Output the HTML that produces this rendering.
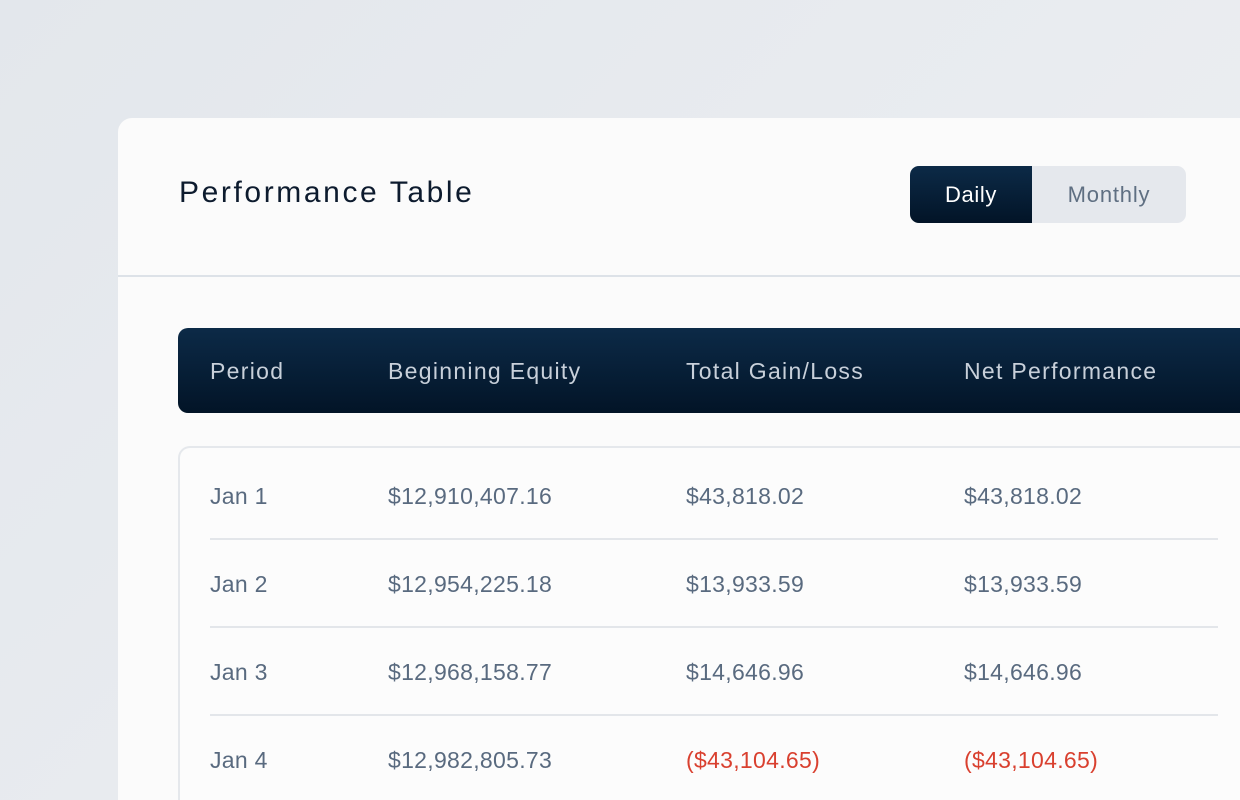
<!DOCTYPE html>
<html><head><meta charset="utf-8"><style>
*{margin:0;padding:0;box-sizing:border-box}
html,body{width:1240px;height:800px;overflow:hidden}
body{background:linear-gradient(135deg,#e3e7ec,#eef0f3);font-family:"Liberation Sans",sans-serif;position:relative}
.card{position:absolute;left:118px;top:118px;width:1122px;height:682px;background:#fbfbfb;border-radius:14px 0 0 0;overflow:hidden}
.title{position:absolute;left:61px;top:58px;font-size:30px;color:#0d1b2e;letter-spacing:2.6px}
.tog{position:absolute;left:792px;top:48px;width:276px;height:57px;border-radius:9px;background:#e5e8ed;overflow:hidden}
.tog .d{position:absolute;left:0;top:0;width:122px;height:57px;background:linear-gradient(#0c2a47,#021427);color:#fff;font-size:22px;text-align:center;line-height:57px;letter-spacing:0.6px}
.tog .m{position:absolute;left:122px;top:0;width:154px;height:57px;color:#5f6f82;font-size:22px;text-align:center;line-height:57px;letter-spacing:0.8px}
.hr{position:absolute;left:0;top:157px;width:1122px;height:2px;background:#dde2e8}
.th{position:absolute;left:60px;top:210px;width:1062px;height:85px;border-radius:10px 0 0 10px;background:linear-gradient(#0c2a47,#021427)}
.th span,.row span{position:absolute;font-size:23px}
.th span{color:#c8d0da;top:30px;letter-spacing:1.3px}
.body{position:absolute;left:60px;top:328px;width:1062px;height:354px;border:2px solid #e5e8ec;border-right:none;border-bottom:none;border-radius:12px 0 0 0;background:#fcfcfc}
.row{position:absolute;left:30px;width:1008px;height:88px;border-bottom:2px solid #e3e6ea}
.row span{color:#596a7f;top:31px;letter-spacing:0.3px}
.neg{color:#d9402f!important}
</style></head><body>
<div class="card">
<div class="title">Performance Table</div>
<div class="tog"><div class="d">Daily</div><div class="m">Monthly</div></div>
<div class="hr"></div>
<div class="th"><span style="left:32px">Period</span><span style="left:210px">Beginning Equity</span><span style="left:508px">Total Gain/Loss</span><span style="left:786px">Net Performance</span></div>
<div class="body">
<div class="row" style="top:4px"><span style="left:0">Jan 1</span><span style="left:178px">$12,910,407.16</span><span style="left:476px">$43,818.02</span><span style="left:754px">$43,818.02</span></div>
<div class="row" style="top:92px"><span style="left:0">Jan 2</span><span style="left:178px">$12,954,225.18</span><span style="left:476px">$13,933.59</span><span style="left:754px">$13,933.59</span></div>
<div class="row" style="top:180px"><span style="left:0">Jan 3</span><span style="left:178px">$12,968,158.77</span><span style="left:476px">$14,646.96</span><span style="left:754px">$14,646.96</span></div>
<div class="row" style="top:268px;height:80px;border:none"><span style="left:0">Jan 4</span><span style="left:178px">$12,982,805.73</span><span class="neg" style="left:476px">($43,104.65)</span><span class="neg" style="left:754px">($43,104.65)</span></div>
</div>
</div>
</body></html>
